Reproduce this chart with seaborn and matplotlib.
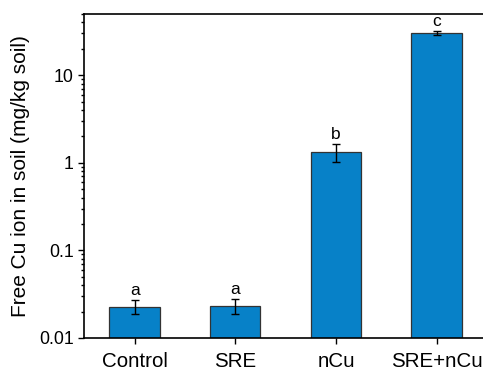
import matplotlib
matplotlib.use("Agg")
import matplotlib.pyplot as plt
import seaborn as sns
import pandas as pd
import numpy as np
from matplotlib.ticker import LogLocator, FixedLocator, FixedFormatter, NullFormatter

categories = ["Control", "SRE", "nCu", "SRE+nCu"]
means = [0.0228, 0.0234, 1.32, 30.3]
errors = [0.0042, 0.0045, 0.31, 1.5]
letters = ["a", "a", "b", "c"]
ytick_vals = [0.01, 0.1, 1, 10]
ytick_labels = ["0.01", "0.1", "1", "10"]

sns.set_theme(style="ticks")
plt.rcParams["font.family"] = ["Liberation Sans", "DejaVu Sans"]
plt.rcParams.update({"text.color": "black", "axes.labelcolor": "black",
                     "xtick.color": "black", "ytick.color": "black"})

df = pd.DataFrame({"group": categories, "value": means})

fig = plt.figure(figsize=(4.83, 3.68), dpi=100)
ax = fig.add_axes([84 / 483, 30 / 368, (488 - 84) / 483, (338 - 14) / 368])

sns.barplot(data=df, x="group", y="value", order=categories, color="#0781C8",
            saturation=1, width=0.5, edgecolor="#333333", linewidth=0.9,
            errorbar=None, ax=ax)
ax.set_yscale("log")
ax.errorbar(range(len(categories)), means, yerr=errors, fmt="none",
            ecolor="black", elinewidth=1.0, capsize=3, capthick=1.0)

for i, (m, e, l) in enumerate(zip(means, errors, letters)):
    ax.annotate(l, xy=(i, m + e), xytext=(0, 1.5), textcoords="offset points",
                ha="center", va="bottom", fontsize=12.5, color="black")

ax.set_ylim(0.01, 50)
ax.set_xlim(-0.503, 3.51)
ax.yaxis.set_major_locator(FixedLocator(ytick_vals))
ax.yaxis.set_major_formatter(FixedFormatter(ytick_labels))
ax.yaxis.set_minor_locator(LogLocator(base=10, subs=np.arange(2, 10)))
ax.yaxis.set_minor_formatter(NullFormatter())

ax.set_xlabel("")
ax.set_ylabel("Free Cu ion in soil (mg/kg soil)", fontsize=15, labelpad=6)
ax.tick_params(axis="x", labelsize=14.8, length=4.5, width=1.0, direction="out", pad=5.5)
ax.tick_params(axis="y", which="major", labelsize=12.8, length=4.5, width=1.0, direction="out", pad=3)
ax.tick_params(axis="y", which="minor", length=2.3, width=1.0, direction="out")

for s in ax.spines.values():
    s.set_linewidth(1.2)
    s.set_color("black")

fig.savefig("out.png", dpi=100)
